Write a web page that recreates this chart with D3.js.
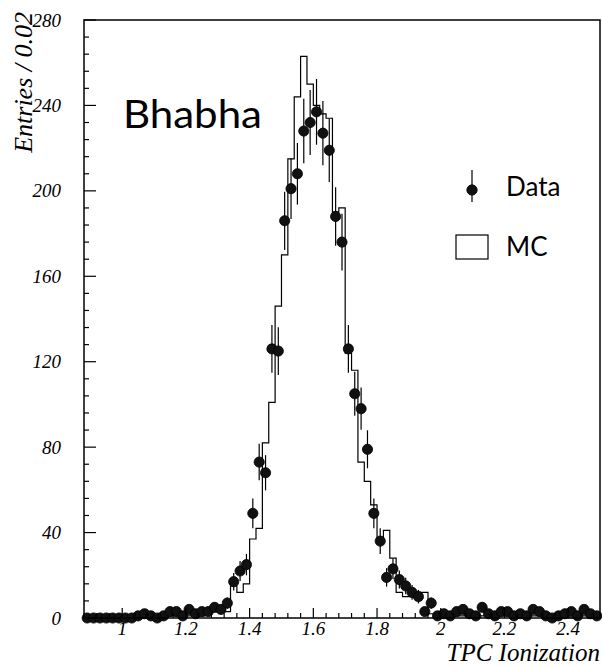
<!DOCTYPE html>
<html>
<head>
<meta charset="utf-8">
<script src="https://cdn.jsdelivr.net/npm/d3@7"></script>
<style>
  html, body { margin: 0; padding: 0; background: #fff; }
  svg { display: block; }
</style>
</head>
<body>
<svg id="chart" width="602" height="667"></svg>
<script>
// ---- data ----
const binLow = 0.88;      // lower edge of first bin
const binWidth = 0.02;    // Entries / 0.02
const dataCounts = [
  0,0,0,0,0,0,0,0,1,2,
  1,0,1,3,3,1,4,2,3,3,
  5,4,7,17,22,25,49,73,68,126,
  125,186,201,208,228,232,237,227,219,188,
  176,126,105,98,79,49,36,19,23,18,
  15,12,10,3,7,1,2,1,3,4,
  2,1,5,2,1,3,3,1,2,1,
  4,3,1,0,1,2,3,1,4,2,
  1
];
const mcCounts = [
  0,0,0,0,0,0,0,0,0,1,
  0,0,0,1,1,1,1,1,1,2,
  3,4,3,15,12,16,37,42,82,101,
  146,170,215,244,263,250,240,236,234,190,
  192,124,116,73,64,53,35,41,28,12,
  10,10,12,12,2,1,1,0,1,1,
  1,0,1,1,0,1,1,0,1,0,
  1,1,0,0,1,1,0,1,1,0,
  0
];
const xMajorTicks = ["1","1.2","1.4","1.6","1.8","2","2.2","2.4"];
const yMajorTicks = [0,40,80,120,160,200,240,280];
const yMinorStep = 8;
const xMinorStep = 0.04;
const legendItems = ["Data","MC"];
const sampleLabel = "Bhabha";
const xTitle = "TPC Ionization";
const yTitle = "Entries / 0.02";

// ---- layout ----
const svg = d3.select("#chart");
const L = 84, R = 600, T = 20, B = 618;
const x = d3.scaleLinear().domain([0.88, 2.5]).range([L, R]);
const y = d3.scaleLinear().domain([0, 280]).range([B, T]);
const serif = "'Liberation Serif', 'DejaVu Serif', serif";
const sans = "Lato, 'DejaVu Sans', sans-serif";

const centers = dataCounts.map((_, i) => binLow + binWidth * (i + 0.5));

// MC histogram (step line)
const mcPts = [];
mcCounts.forEach((v, i) => {
  const x0 = binLow + binWidth * i, x1 = x0 + binWidth;
  mcPts.push([x0, v], [x1, v]);
});
const line = d3.line().x(d => x(d[0])).y(d => y(d[1]));
svg.append("path")
  .attr("d", line(mcPts))
  .attr("fill", "none")
  .attr("stroke", "#000")
  .attr("stroke-width", 1.2);

// Data error bars
const g = svg.append("g");
g.selectAll("line.err").data(dataCounts).join("line")
  .attr("class", "err")
  .attr("x1", (d, i) => x(centers[i]))
  .attr("x2", (d, i) => x(centers[i]))
  .attr("y1", d => y(d + Math.sqrt(d)))
  .attr("y2", d => y(Math.max(0, d - Math.sqrt(d))))
  .attr("stroke", "#000")
  .attr("stroke-width", 1.2);
g.selectAll("circle.pt").data(dataCounts).join("circle")
  .attr("class", "pt")
  .attr("cx", (d, i) => x(centers[i]))
  .attr("cy", d => y(d))
  .attr("r", 5.1)
  .attr("fill", "#111")
  .attr("stroke", "#000")
  .attr("stroke-width", 0.8);

// Frame
svg.append("rect")
  .attr("x", L).attr("y", T)
  .attr("width", R - L).attr("height", B - T)
  .attr("fill", "none").attr("stroke", "#000").attr("stroke-width", 1.5);

// Y ticks
const yMinor = d3.range(0, 280 + 0.001, yMinorStep);
svg.append("g").selectAll("line").data(yMinor).join("line")
  .attr("x1", L).attr("x2", d => L + (d % 40 === 0 ? 12 : 5))
  .attr("y1", d => y(d)).attr("y2", d => y(d))
  .attr("stroke", "#000").attr("stroke-width", 1.2);
svg.append("g").selectAll("text").data(yMajorTicks).join("text")
  .attr("x", 61).attr("y", d => y(d) + 6.5)
  .attr("text-anchor", "end")
  .attr("font-family", serif).attr("font-style", "italic")
  .attr("font-size", 19)
  .text(d => d);

// X ticks
const xMinor = d3.range(0, 41).map(k => 0.88 + xMinorStep * k);
svg.append("g").selectAll("line").data(xMinor).join("line")
  .attr("x1", d => x(d)).attr("x2", d => x(d))
  .attr("y1", B)
  .attr("y2", (d, i) => B - ((i + 2) % 5 === 0 ? 10 : 5))
  .attr("stroke", "#000").attr("stroke-width", 1.2);
svg.append("g").selectAll("text").data(xMajorTicks).join("text")
  .attr("x", d => x(+d)).attr("y", 635)
  .attr("text-anchor", "middle")
  .attr("font-family", serif).attr("font-style", "italic")
  .attr("font-size", 19)
  .text(d => d);

// Axis titles
svg.append("text")
  .attr("x", 600).attr("y", 661)
  .attr("text-anchor", "end")
  .attr("font-family", serif).attr("font-style", "italic")
  .attr("font-size", 25)
  .text(xTitle);
svg.append("text")
  .attr("transform", "translate(32,12) rotate(-90)")
  .attr("text-anchor", "end")
  .attr("font-family", serif).attr("font-style", "italic")
  .attr("font-size", 26)
  .text(yTitle);

// Sample label
svg.append("text")
  .attr("x", 123).attr("y", 128)
  .attr("font-family", sans)
  .attr("font-size", 39)
  .attr("textLength", 139)
  .attr("lengthAdjust", "spacingAndGlyphs")
  .text(sampleLabel);

// Legend
const legY1 = 187, legY2 = 247;
svg.append("line").attr("x1", 472).attr("x2", 472)
  .attr("y1", legY1 - 17).attr("y2", legY1 + 15)
  .attr("stroke", "#000").attr("stroke-width", 1.2);
svg.append("circle").attr("cx", 472).attr("cy", legY1 + 3).attr("r", 5.1)
  .attr("fill", "#111").attr("stroke", "#000");
svg.append("rect").attr("x", 456).attr("y", legY2 - 12)
  .attr("width", 32).attr("height", 24)
  .attr("fill", "none").attr("stroke", "#000").attr("stroke-width", 1.2);
svg.selectAll("text.leg").data(legendItems).join("text")
  .attr("class", "leg")
  .attr("x", 506)
  .attr("y", (d, i) => (i === 0 ? legY1 : legY2) + 9)
  .attr("font-family", sans)
  .attr("font-size", 26)
  .text(d => d);
</script>
</body>
</html>
